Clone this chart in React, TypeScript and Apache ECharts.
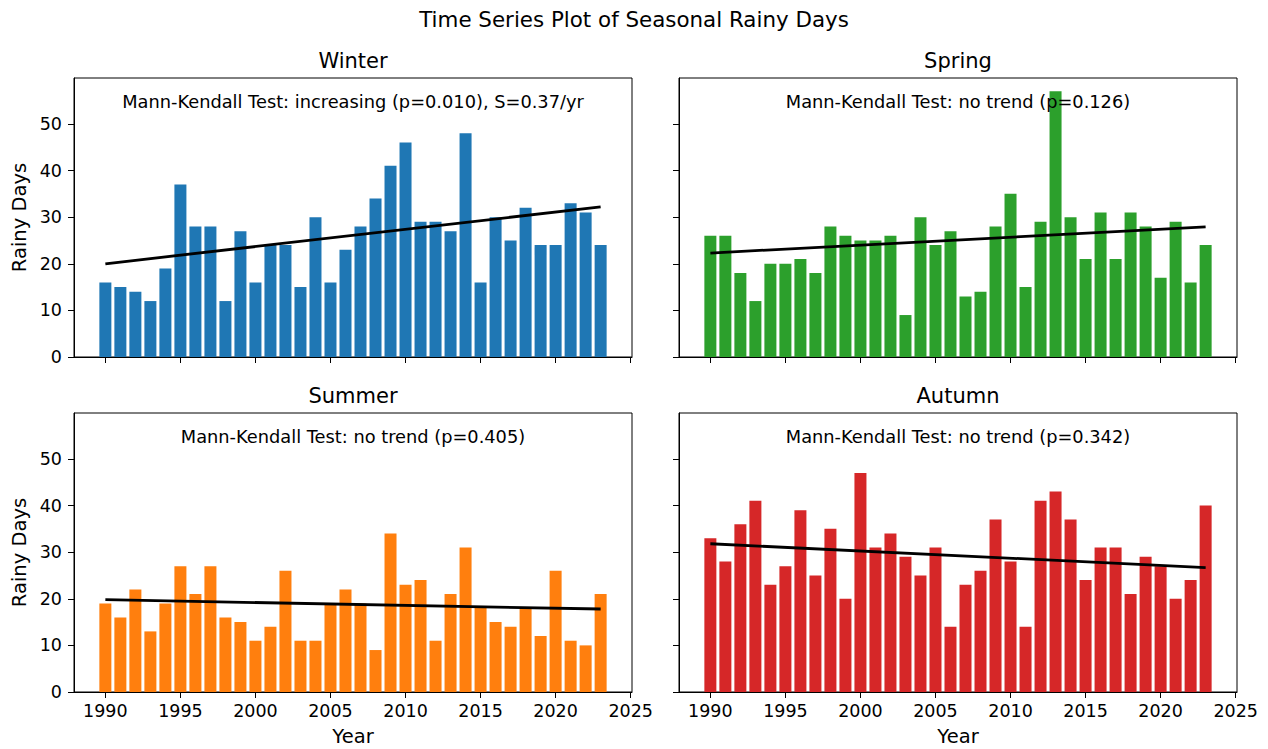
import React, { useEffect, useRef } from "react";
import * as echarts from "echarts";

// Observation years, one bar per year
const years = [
  1990, 1991, 1992, 1993, 1994, 1995, 1996, 1997, 1998, 1999,
  2000, 2001, 2002, 2003, 2004, 2005, 2006, 2007, 2008, 2009,
  2010, 2011, 2012, 2013, 2014, 2015, 2016, 2017, 2018, 2019,
  2020, 2021, 2022, 2023,
];

// Rainy days per season
const winterDays = [
  16, 15, 14, 12, 19, 37, 28, 28, 12, 27,
  16, 24, 24, 15, 30, 16, 23, 28, 34, 41,
  46, 29, 29, 27, 48, 16, 30, 25, 32, 24,
  24, 33, 31, 24,
];
const springDays = [
  26, 26, 18, 12, 20, 20, 21, 18, 28, 26,
  25, 25, 26, 9, 30, 24, 27, 13, 14, 28,
  35, 15, 29, 57, 30, 21, 31, 21, 31, 28,
  17, 29, 16, 24,
];
const summerDays = [
  19, 16, 22, 13, 19, 27, 21, 27, 16, 15,
  11, 14, 26, 11, 11, 19, 22, 19, 9, 34,
  23, 24, 11, 21, 31, 18, 15, 14, 18, 12,
  26, 11, 10, 21,
];
const autumnDays = [
  33, 28, 36, 41, 23, 27, 39, 25, 35, 20,
  47, 31, 34, 29, 25, 31, 14, 23, 26, 37,
  28, 14, 41, 43, 37, 24, 31, 31, 21, 29,
  27, 20, 24, 40,
];

// Sen's slope trend line: value at first and last year
const trendYears = [1990, 2023];
const winterTrend = [20.0, 32.2];
const springTrend = [22.3, 27.9];
const summerTrend = [19.8, 17.8];
const autumnTrend = [31.8, 26.7];

const seasonNames = ["Winter", "Spring", "Summer", "Autumn"];
const seasonColors = ["#1f77b4", "#2ca02c", "#ff7f0e", "#d62728"];
const testLabels = [
  "Mann-Kendall Test: increasing (p=0.010), S=0.37/yr",
  "Mann-Kendall Test: no trend (p=0.126)",
  "Mann-Kendall Test: no trend (p=0.405)",
  "Mann-Kendall Test: no trend (p=0.342)",
];

const xTickValues = [1990, 1995, 2000, 2005, 2010, 2015, 2020, 2025];
const yTickValues = [0, 10, 20, 30, 40, 50];

const FONT = "DejaVu Sans";
const X_MIN = 1987.91;
const X_MAX = 2025.09;
const Y_MAX = 59.85;

// panel geometry in pixels
const GRID_W = 558;
const GRID_H = 279;
const LEFTS = [74, 679];
const TOPS = [78, 413];

export default function App() {
  const ref = useRef<HTMLDivElement>(null);

  useEffect(() => {
    document.body.style.margin = "0";
    if (!ref.current) return;
    const chart = echarts.init(ref.current, null, { renderer: "svg" });

    const seasonData = [winterDays, springDays, summerDays, autumnDays];
    const trends = [winterTrend, springTrend, summerTrend, autumnTrend];
    const barWidth = (GRID_W / (X_MAX - X_MIN)) * 0.8;

    const grids: any[] = [];
    const xAxes: any[] = [];
    const yAxes: any[] = [];
    const series: any[] = [];
    const graphics: any[] = [];

    for (let i = 0; i < 4; i++) {
      const col = i % 2;
      const row = Math.floor(i / 2);
      const left = LEFTS[col];
      const top = TOPS[row];

      grids.push({
        left,
        top,
        width: GRID_W,
        height: GRID_H,
        show: true,
        borderColor: "#000",
        borderWidth: 1,
        backgroundColor: "transparent",
        containLabel: false,
      });

      xAxes.push({
        type: "value",
        gridIndex: i,
        min: X_MIN,
        max: X_MAX,
        z: 5,
        splitLine: { show: false },
        axisLine: { show: true, onZero: false, lineStyle: { color: "#000", width: 1 } },
        axisTick: {
          show: true,
          inside: false,
          length: 6,
          customValues: xTickValues,
          lineStyle: { color: "#000", width: 1 },
        },
        axisLabel: {
          show: row === 1,
          customValues: xTickValues,
          margin: 10,
          color: "#000",
          fontFamily: FONT,
          fontSize: 17.5,
          formatter: (v: number) => String(Math.round(v)),
        },
      });

      yAxes.push({
        type: "value",
        gridIndex: i,
        min: 0,
        max: Y_MAX,
        z: 5,
        splitLine: { show: false },
        axisLine: { show: true, lineStyle: { color: "#000", width: 1 } },
        axisTick: {
          show: true,
          inside: false,
          length: 6,
          customValues: yTickValues,
          lineStyle: { color: "#000", width: 1 },
        },
        axisLabel: {
          show: col === 0,
          customValues: yTickValues,
          margin: 12,
          color: "#000",
          fontFamily: FONT,
          fontSize: 17.5,
        },
      });

      series.push({
        type: "bar",
        xAxisIndex: i,
        yAxisIndex: i,
        barWidth,
        itemStyle: { color: seasonColors[i] },
        data: years.map((y, k) => [y, seasonData[i][k]]),
        z: 2,
      });

      series.push({
        type: "line",
        xAxisIndex: i,
        yAxisIndex: i,
        symbol: "none",
        lineStyle: { color: "#000", width: 2.8 },
        data: trendYears.map((y, k) => [y, trends[i][k]]),
        z: 3,
      });

      // panel title
      graphics.push({
        type: "text",
        x: left + GRID_W / 2,
        y: top - 17,
        style: {
          text: seasonNames[i],
          fill: "#000",
          font: `21px "${FONT}"`,
          align: "center",
          verticalAlign: "middle",
        },
      });

      // trend test annotation
      graphics.push({
        type: "text",
        x: left + GRID_W / 2,
        y: top + 23,
        z: 10,
        style: {
          text: testLabels[i],
          fill: "#000",
          font: `17.8px "${FONT}"`,
          align: "center",
          verticalAlign: "middle",
        },
      });

      if (col === 0) {
        graphics.push({
          type: "text",
          x: 19,
          y: top + GRID_H / 2,
          rotation: Math.PI / 2,
          style: {
            text: "Rainy Days",
            fill: "#000",
            font: `19.5px "${FONT}"`,
            align: "center",
            verticalAlign: "middle",
          },
        });
      }
      if (row === 1) {
        graphics.push({
          type: "text",
          x: left + GRID_W / 2,
          y: 736,
          style: {
            text: "Year",
            fill: "#000",
            font: `19.5px "${FONT}"`,
            align: "center",
            verticalAlign: "middle",
          },
        });
      }
    }

    graphics.push({
      type: "text",
      x: 634,
      y: 19,
      style: {
        text: "Time Series Plot of Seasonal Rainy Days",
        fill: "#000",
        font: `21.4px "${FONT}"`,
        align: "center",
        verticalAlign: "middle",
      },
    });

    chart.setOption({
      animation: false,
      backgroundColor: "#fff",
      grid: grids,
      xAxis: xAxes,
      yAxis: yAxes,
      series,
      graphic: graphics,
    });

    return () => chart.dispose();
  }, []);

  return <div ref={ref} style={{ width: 1268, height: 749 }} />;
}
